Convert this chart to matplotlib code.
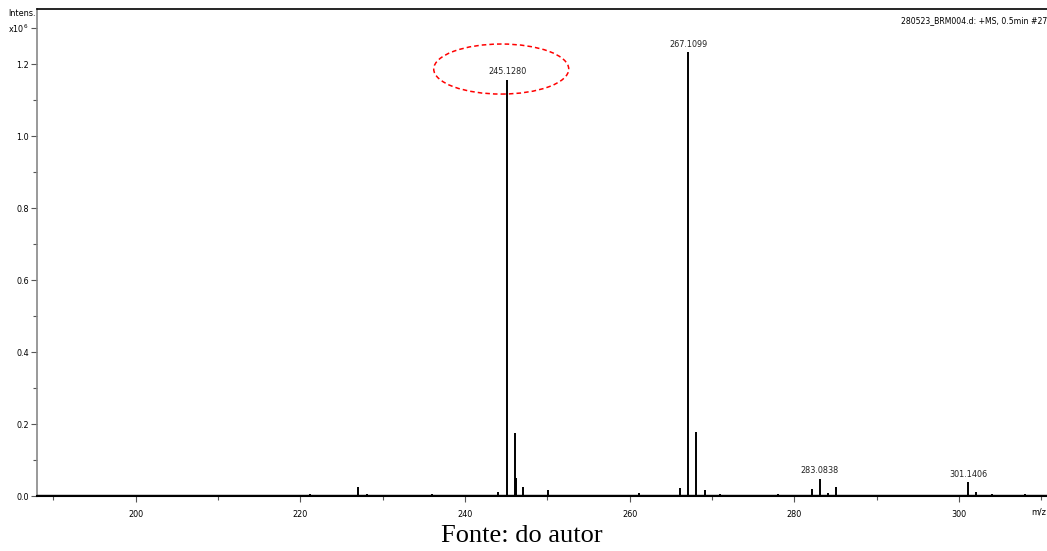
import matplotlib
matplotlib.use('Agg')
import matplotlib.pyplot as plt
from matplotlib import font_manager
from matplotlib.patches import Ellipse
import numpy as np

# peak list (m/z, intensity x10^6)
mz = [202.1, 221.2, 227.0, 228.1, 236.0, 244.0, 245.128, 246.1, 246.2, 247.1, 250.1,
      261.1, 266.1, 267.1099, 268.1, 269.1, 271.0, 278.0, 282.1, 283.0838, 284.1, 285.1,
      297.0, 301.1406, 302.1, 304.0, 308.0]
intens = [0.004, 0.006, 0.024, 0.005, 0.005, 0.012, 1.156, 0.175, 0.05, 0.025, 0.018,
          0.009, 0.022, 1.233, 0.178, 0.017, 0.005, 0.005, 0.02, 0.047, 0.008, 0.025,
          0.004, 0.038, 0.01, 0.005, 0.005]

labelled = [245.128, 267.1099, 283.0838, 301.1406]
label_txt = ['245.1280', '267.1099', '283.0838', '301.1406']

print(sorted(set((f.name, f.stretch) for f in font_manager.fontManager.ttflist if 'DejaVu' in f.name or 'Liberation' in f.name or 'Roboto' in f.name)))

plt.rcParams['font.family'] = ['DejaVu Sans']
plt.rcParams['font.stretch'] = 'condensed'

fig = plt.figure(figsize=(10.47, 5.51), dpi=100)
ax = fig.add_axes([0.0353, 0.0998, 0.9647, 0.884])

ax.vlines(mz, 0, intens, color='black', lw=1.4)
ax.axhline(0, color='black', lw=2.4, zorder=3)

for m, t in zip(labelled, label_txt):
    h = intens[mz.index(m)]
    ax.text(m, h + 0.01, t, ha='center', va='bottom', fontsize=6.5, color='#222222')

ax.add_patch(Ellipse((244.4, 1.186), 16.4, 0.139, fill=False, edgecolor='red',
                     ls=(0, (3, 2)), lw=1.1))

ax.set_xlim(188, 310.7)
ax.set_ylim(0, 1.353)

ax.set_xticks([200, 220, 240, 260, 280, 300])
ax.set_xticks(np.arange(190, 311, 10), minor=True)
ax.set_yticks([0, 0.2, 0.4, 0.6, 0.8, 1.0, 1.2, 1.3])
ax.set_yticklabels(['0.0', '0.2', '0.4', '0.6', '0.8', '1.0', '1.2', 'x10$^6$'])
ax.set_yticks(np.arange(0.1, 1.2, 0.2), minor=True)
ax.tick_params(axis='both', which='both', labelsize=6.5, direction='out', color='#555555')
ax.tick_params(axis='both', which='major', length=4, width=0.8)
ax.tick_params(axis='both', which='minor', length=3, width=0.8)
ax.tick_params(axis='x', pad=6)
ax.tick_params(axis='y', pad=2)

ax.spines['left'].set_color('#888888')
ax.spines['left'].set_linewidth(1.2)
ax.spines['top'].set_color('black')
ax.spines['top'].set_linewidth(1.2)
ax.spines['bottom'].set_color('black')
ax.spines['bottom'].set_linewidth(1.5)
ax.spines['right'].set_visible(False)

fig.text(0.008, 0.975, 'Intens.', ha='left', va='center', fontsize=6.5)
ax.text(1.0, 0.985, '280523_BRM004.d: +MS, 0.5min #27', transform=ax.transAxes,
        ha='right', va='top', fontsize=6.2)
ax.text(0.9995, -0.033, 'm/z', transform=ax.transAxes, ha='right', va='center',
        fontsize=6.5)

fig.text(0.4985, 0.008, 'Fonte: do autor', ha='center', va='bottom',
         fontsize=19, family=['Liberation Serif', 'DejaVu Serif'], stretch='normal')

fig.savefig('out.png', dpi=100)
